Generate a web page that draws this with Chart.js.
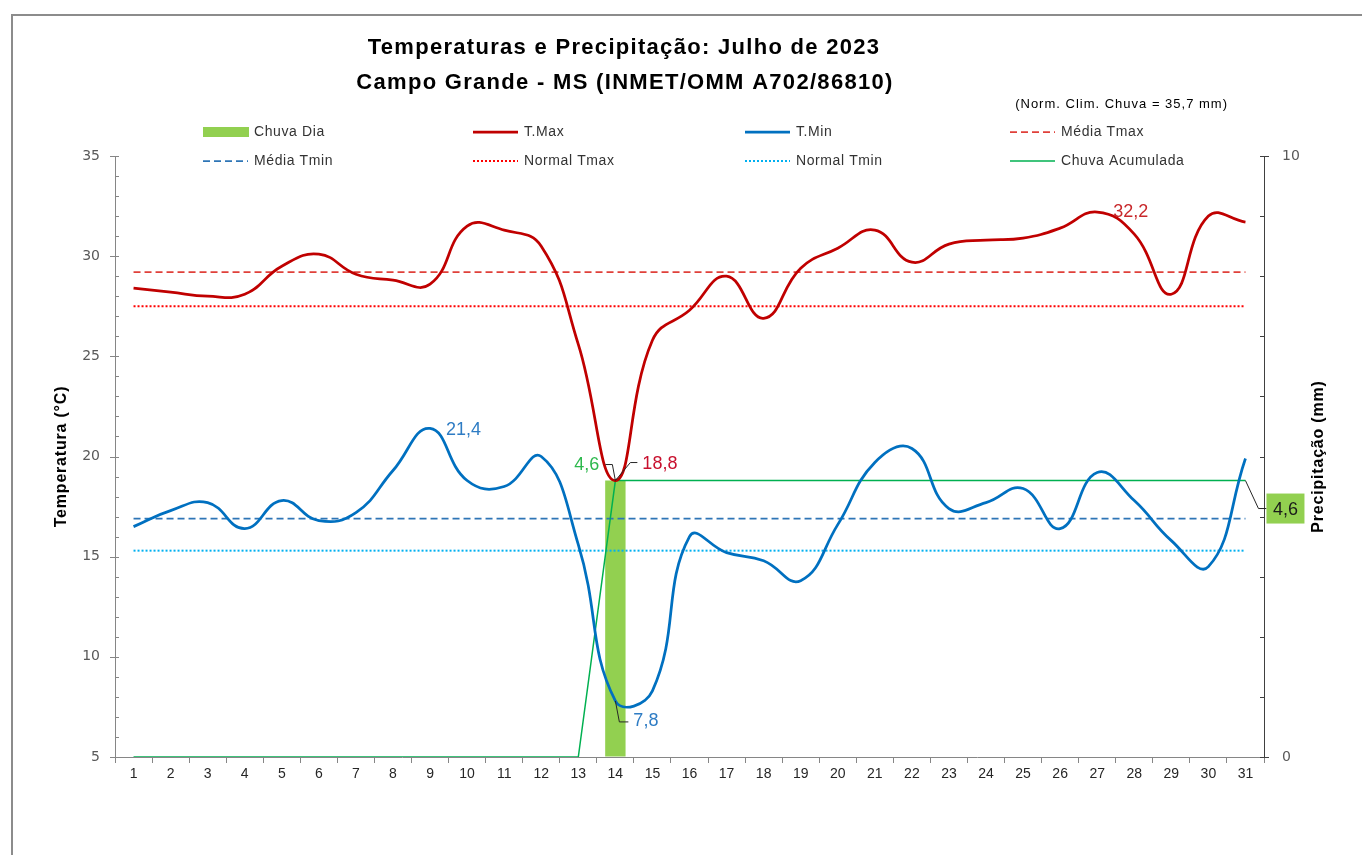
<!DOCTYPE html>
<html>
<head>
<meta charset="utf-8">
<script src="https://cdn.jsdelivr.net/npm/chart.js@4"></script>
<style>
  body { margin: 0; background: #fff; }
  #wrap { width: 1362px; height: 855px; }
</style>
</head>
<body>
<div id="wrap"><canvas id="grafico" width="1362" height="855"></canvas></div>
<script>
// dados (julho 2023)
const dias = ['1','2','3','4','5','6','7','8','9','10','11','12','13','14','15','16',
              '17','18','19','20','21','22','23','24','25','26','27','28','29','30','31'];
const chuvaDia = [0,0,0,0,0,0,0,0,0,0,0,0,0,4.6,0,0,0,0,0,0,0,0,0,0,0,0,0,0,0,0,0];
const chuvaAcum = [0,0,0,0,0,0,0,0,0,0,0,0,0,4.6,4.6,4.6,4.6,4.6,4.6,4.6,4.6,4.6,4.6,
                   4.6,4.6,4.6,4.6,4.6,4.6,4.6,4.6];
const tMax = [28.4,28.2,28.0,28.1,29.5,30.1,29.1,28.8,28.6,31.5,31.3,30.5,25.6,18.8,25.8,27.3,
              29.0,26.9,29.4,30.4,31.3,29.7,30.6,30.8,30.9,31.4,32.2,31.1,28.1,32.0,31.7];
const tMin = [16.5,17.3,17.7,16.4,17.8,16.8,17.2,19.3,21.4,18.8,18.5,20.0,15.6,7.8,8.3,16.0,
              15.2,14.8,13.8,16.6,19.7,20.4,17.4,17.7,18.4,16.4,19.2,17.8,15.8,14.5,19.9];
const mediaTmax = 29.2;
const mediaTmin = 16.9;
const normalTmax = 27.5;
const normalTmin = 15.3;
const ticksTemp = [5,10,15,20,25,30,35];
const ticksChuva = [0,10];

function fmt(v) { return v.toFixed(1).replace('.', ','); }

function linhaRef(v) {
  return [{x: dias[0], y: v}, {x: dias[dias.length - 1], y: v}];
}

function guia(ctx, pts) {
  ctx.save();
  ctx.strokeStyle = '#262626';
  ctx.lineWidth = 1;
  ctx.beginPath();
  ctx.moveTo(pts[0][0], pts[0][1]);
  for (let i = 1; i < pts.length; i++) ctx.lineTo(pts[i][0], pts[i][1]);
  ctx.stroke();
  ctx.restore();
}

function rotulo(ctx, txt, x, y, cor, align) {
  ctx.save();
  ctx.font = '18px "Liberation Sans", Arial, sans-serif';
  ctx.fillStyle = cor;
  ctx.textAlign = align;
  ctx.textBaseline = 'middle';
  ctx.fillText(txt, x, y);
  ctx.restore();
}

const extras = {
  id: 'extras',
  beforeDraw(chart) {
    const ctx = chart.ctx;
    ctx.save();
    ctx.fillStyle = '#fff';
    ctx.fillRect(0, 0, chart.width, chart.height);
    ctx.strokeStyle = '#8c8c8c';
    ctx.lineWidth = 2;
    ctx.strokeRect(12, 15, 1400, 900);
    ctx.restore();
  },
  afterDraw(chart) {
    const ctx = chart.ctx;
    const area = chart.chartArea;

    // titulos
    ctx.save();
    ctx.fillStyle = '#000';
    ctx.textAlign = 'center';
    ctx.textBaseline = 'alphabetic';
    ctx.font = 'bold 22px "Liberation Sans", Arial, sans-serif';
    ctx.letterSpacing = '1.3px';
    ctx.fillText('Temperaturas e Precipitação: Julho de 2023', 624, 54);
    ctx.fillText('Campo Grande - MS (INMET/OMM A702/86810)', 625, 89);
    ctx.font = '13px "Liberation Sans", Arial, sans-serif';
    ctx.letterSpacing = '1px';
    ctx.textAlign = 'right';
    ctx.textBaseline = 'middle';
    ctx.fillText('(Norm. Clim. Chuva = 35,7 mm)', 1228, 104);
    ctx.restore();

    // legenda
    const colX = [203, 473, 745, 1010];
    const rowY = [132, 161];
    ctx.save();
    chart.data.datasets.forEach((ds, i) => {
      const x = colX[i % 4], y = rowY[Math.floor(i / 4)];
      if (ds.type === 'line') {
        ctx.beginPath();
        ctx.strokeStyle = ds.borderColor;
        ctx.lineWidth = ds.borderWidth;
        ctx.setLineDash(ds.borderDash || []);
        ctx.moveTo(x, y);
        ctx.lineTo(x + 45, y);
        ctx.stroke();
        ctx.setLineDash([]);
      } else {
        ctx.fillStyle = ds.backgroundColor;
        ctx.fillRect(x, y - 5, 46, 10);
      }
      ctx.fillStyle = '#333';
      ctx.font = '14px "Liberation Sans", Arial, sans-serif';
      ctx.letterSpacing = '0.6px';
      ctx.textAlign = 'left';
      ctx.textBaseline = 'middle';
      ctx.fillText(ds.label, x + 51, y);
    });
    ctx.restore();

    // titulos dos eixos
    ctx.save();
    ctx.font = 'bold 16px "Liberation Sans", Arial, sans-serif';
    ctx.letterSpacing = '0.8px';
    ctx.fillStyle = '#000';
    ctx.textAlign = 'center';
    ctx.textBaseline = 'middle';
    ctx.translate(62, (area.top + area.bottom) / 2);
    ctx.rotate(-Math.PI / 2);
    ctx.fillText('Temperatura (°C)', 0, 0);
    ctx.restore();
    ctx.save();
    ctx.font = 'bold 16px "Liberation Sans", Arial, sans-serif';
    ctx.letterSpacing = '0.8px';
    ctx.fillStyle = '#000';
    ctx.textAlign = 'center';
    ctx.textBaseline = 'middle';
    ctx.translate(1319, (area.top + area.bottom) / 2);
    ctx.rotate(-Math.PI / 2);
    ctx.fillText('Precipitação (mm)', 0, 0);
    ctx.restore();

    // marcas dos eixos verticais
    const sy = chart.scales.y, sy2 = chart.scales.y2;
    ctx.save();
    ctx.lineWidth = 1;
    ctx.strokeStyle = '#868686';
    sy.ticks.forEach(t => {
      const py = Math.round(sy.getPixelForValue(t.value)) + 0.5;
      const major = ticksTemp.includes(t.value);
      ctx.beginPath();
      ctx.moveTo(area.left - (major ? 5 : 0), py);
      ctx.lineTo(area.left + 4, py);
      ctx.stroke();
    });
    ctx.strokeStyle = '#404040';
    sy2.ticks.forEach(t => {
      const py = Math.round(sy2.getPixelForValue(t.value)) + 0.5;
      const major = ticksChuva.includes(t.value);
      ctx.beginPath();
      ctx.moveTo(area.right - 4, py);
      ctx.lineTo(area.right + (major ? 5 : 0), py);
      ctx.stroke();
    });
    ctx.restore();

    // rotulos de dados
    const pMax = chart.getDatasetMeta(1).data;
    const pMin = chart.getDatasetMeta(2).data;
    const pAcum = chart.getDatasetMeta(7).data;
    const iMin = 13, iPicoMin = 8, iPicoMax = 26, iFim = dias.length - 1;

    let p = pMin[iPicoMin];
    rotulo(ctx, fmt(tMin[iPicoMin]), p.x + 16, p.y + 2, '#2E7CC4', 'left');
    p = pMax[iPicoMax];
    rotulo(ctx, fmt(tMax[iPicoMax]), p.x + 16, p.y, '#C8282B', 'left');

    p = pMax[iMin];
    guia(ctx, [[p.x, p.y], [p.x + 15, p.y - 18], [p.x + 22, p.y - 18]]);
    rotulo(ctx, fmt(tMax[iMin]), p.x + 27, p.y - 17, '#C8102E', 'left');

    p = pAcum[iMin];
    guia(ctx, [[p.x, p.y], [p.x - 3, p.y - 16], [p.x - 10, p.y - 16]]);
    rotulo(ctx, fmt(chuvaAcum[iMin]), p.x - 16, p.y - 16, '#2DB84D', 'right');

    p = pMin[iMin];
    guia(ctx, [[p.x, p.y], [p.x + 4, p.y + 21], [p.x + 13, p.y + 21]]);
    rotulo(ctx, fmt(tMin[iMin]), p.x + 18, p.y + 20, '#2E7CC4', 'left');

    p = pAcum[iFim];
    guia(ctx, [[p.x, p.y], [p.x + 13, p.y + 28], [p.x + 21, p.y + 28]]);
    ctx.save();
    ctx.fillStyle = '#92D050';
    ctx.fillRect(p.x + 21, p.y + 13, 38, 30);
    ctx.restore();
    rotulo(ctx, fmt(chuvaAcum[iFim]), p.x + 40, p.y + 29, '#1a1a1a', 'center');
  }
};

const ctx = document.getElementById('grafico');

new Chart(ctx, {
  type: 'bar',
  data: {
    labels: dias,
    datasets: [
      {
        type: 'bar',
        label: 'Chuva Dia',
        data: chuvaDia,
        backgroundColor: '#92D050',
        borderWidth: 0,
        barPercentage: 0.55,
        categoryPercentage: 1,
        yAxisID: 'y2',
        order: 10
      },
      {
        type: 'line',
        label: 'T.Max',
        data: tMax,
        borderColor: '#C00000',
        borderWidth: 2.75,
        tension: 0.45,
        pointRadius: 0,
        yAxisID: 'y',
        order: 1
      },
      {
        type: 'line',
        label: 'T.Min',
        data: tMin,
        borderColor: '#0070C0',
        borderWidth: 2.75,
        tension: 0.45,
        pointRadius: 0,
        yAxisID: 'y',
        order: 1
      },
      {
        type: 'line',
        label: 'Média Tmax',
        data: linhaRef(mediaTmax),
        borderColor: '#E0403A',
        borderWidth: 1.75,
        borderDash: [7, 4],
        pointRadius: 0,
        yAxisID: 'y',
        order: 3
      },
      {
        type: 'line',
        label: 'Média Tmin',
        data: linhaRef(mediaTmin),
        borderColor: '#2E75B6',
        borderWidth: 1.75,
        borderDash: [7, 4],
        pointRadius: 0,
        yAxisID: 'y',
        order: 3
      },
      {
        type: 'line',
        label: 'Normal Tmax',
        data: linhaRef(normalTmax),
        borderColor: '#FF0000',
        borderWidth: 2,
        borderDash: [2, 2],
        pointRadius: 0,
        yAxisID: 'y',
        order: 3
      },
      {
        type: 'line',
        label: 'Normal Tmin',
        data: linhaRef(normalTmin),
        borderColor: '#00B0F0',
        borderWidth: 2,
        borderDash: [2, 2],
        pointRadius: 0,
        yAxisID: 'y',
        order: 3
      },
      {
        type: 'line',
        label: 'Chuva Acumulada',
        data: chuvaAcum,
        borderColor: '#00B050',
        borderWidth: 1.5,
        tension: 0,
        pointRadius: 0,
        yAxisID: 'y2',
        order: 2
      }
    ]
  },
  options: {
    responsive: false,
    animation: false,
    devicePixelRatio: 1,
    layout: { padding: { top: 156, left: 0, right: 0, bottom: 0 } },
    plugins: {
      legend: { display: false },
      title: { display: false },
      tooltip: { enabled: false }
    },
    scales: {
      x: {
        offset: true,
        grid: { offset: true, drawOnChartArea: false, tickLength: 6, color: '#868686' },
        border: { color: '#868686' },
        ticks: {
          color: '#262626',
          padding: 3,
          autoSkip: false,
          maxRotation: 0,
          font: { family: '"Liberation Sans", Arial, sans-serif', size: 14 }
        },
        afterFit: s => { s.height = 98; }
      },
      y: {
        position: 'left',
        min: 5,
        max: 35,
        grid: { drawOnChartArea: false, tickLength: 5, tickColor: 'rgba(0,0,0,0)' },
        border: { color: '#868686' },
        ticks: {
          stepSize: 1,
          autoSkip: false,
          padding: 10,
          color: '#595959',
          font: { family: '"DejaVu Sans", Verdana, sans-serif', size: 14 },
          callback: v => ticksTemp.includes(v) ? v : ''
        },
        afterFit: s => { s.width = 115; }
      },
      y2: {
        position: 'right',
        min: 0,
        max: 10,
        grid: { drawOnChartArea: false, tickLength: 5, tickColor: 'rgba(0,0,0,0)' },
        border: { color: '#404040' },
        ticks: {
          stepSize: 1,
          autoSkip: false,
          padding: 13,
          color: '#595959',
          font: { family: '"DejaVu Sans", Verdana, sans-serif', size: 14 },
          callback: v => ticksChuva.includes(v) ? v : ''
        },
        afterFit: s => { s.width = 98; }
      }
    }
  },
  plugins: [extras]
});
</script>
</body>
</html>
